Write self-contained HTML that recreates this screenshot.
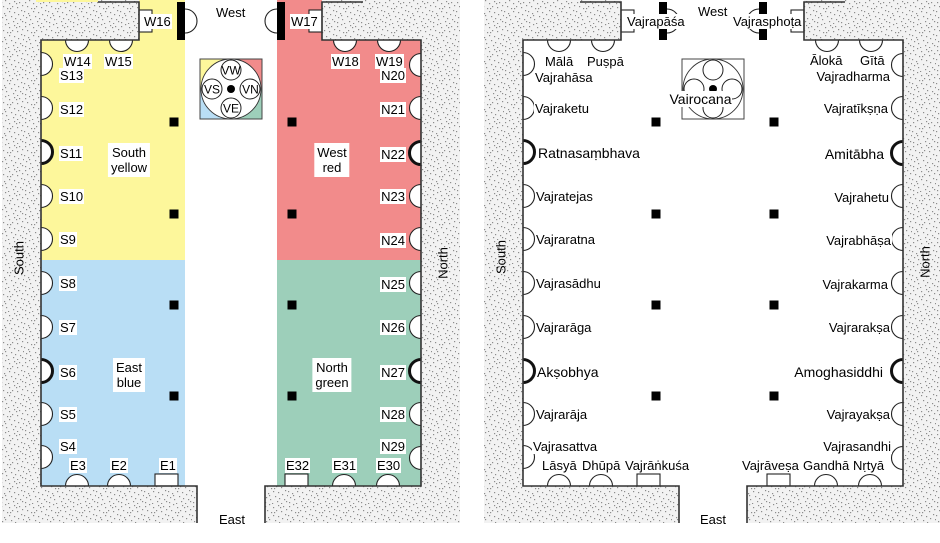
<!DOCTYPE html>
<html><head><meta charset="utf-8">
<style>
html,body{margin:0;padding:0;background:#fff;}
#c{position:relative;width:940px;height:543px;overflow:hidden;font-family:"Liberation Sans","DejaVu Sans",Arial,sans-serif;color:#000;}
svg{position:absolute;left:0;top:0;}
.l{position:absolute;font-size:13px;line-height:15px;background:#fff;padding:0 1px;white-space:nowrap;}
.b{font-size:14px;line-height:16px;}
.n{background:none;}
.c{text-align:center;padding:2px 3px;transform:translateX(-50%);}
.rot{position:absolute;font-size:13px;line-height:15px;white-space:nowrap;transform:translate(-50%,-50%) rotate(-90deg);}
</style></head><body>
<div id="c">
<svg width="940" height="543" viewBox="0 0 940 543">
<defs>
<pattern id="st" width="24" height="24" patternUnits="userSpaceOnUse">
<rect width="24" height="24" fill="#f2f2f2"/>
<g fill="#8c8c8c">
<rect x="1" y="2" width="1.2" height="1.2"/><rect x="5" y="0" width="1.2" height="1.2"/><rect x="9" y="3" width="1.2" height="1.2"/>
<rect x="14" y="1" width="1.2" height="1.2"/><rect x="19" y="2" width="1.2" height="1.2"/><rect x="22" y="5" width="1.2" height="1.2"/>
<rect x="3" y="6" width="1.2" height="1.2"/><rect x="7" y="8" width="1.2" height="1.2"/><rect x="12" y="6" width="1.2" height="1.2"/>
<rect x="17" y="7" width="1.2" height="1.2"/><rect x="21" y="10" width="1.2" height="1.2"/><rect x="0" y="11" width="1.2" height="1.2"/>
<rect x="4" y="13" width="1.2" height="1.2"/><rect x="9" y="11" width="1.2" height="1.2"/><rect x="14" y="12" width="1.2" height="1.2"/>
<rect x="18" y="14" width="1.2" height="1.2"/><rect x="23" y="15" width="1.2" height="1.2"/><rect x="2" y="17" width="1.2" height="1.2"/>
<rect x="6" y="19" width="1.2" height="1.2"/><rect x="11" y="16" width="1.2" height="1.2"/><rect x="15" y="18" width="1.2" height="1.2"/>
<rect x="20" y="19" width="1.2" height="1.2"/><rect x="1" y="22" width="1.2" height="1.2"/><rect x="8" y="23" width="1.2" height="1.2"/>
<rect x="13" y="21" width="1.2" height="1.2"/><rect x="17" y="23" width="1.2" height="1.2"/><rect x="22" y="21" width="1.2" height="1.2"/>
<rect x="10" y="8" width="1.2" height="1.2"/><rect x="16" y="3" width="1.2" height="1.2"/><rect x="5" y="15" width="1.2" height="1.2"/>
</g>
</pattern>
<g id="base">
  <!-- niches -->
  <g fill="#fff" stroke="#222" stroke-width="1.1">
    <path d="M41,52.5 A11.5,11.5 0 0 1 41,75.5"/>
    <path d="M41,96.5 A11.5,11.5 0 0 1 41,119.5"/>
    <path d="M41,184.5 A11.5,11.5 0 0 1 41,207.5"/>
    <path d="M41,227.5 A11.5,11.5 0 0 1 41,250.5"/>
    <path d="M41,271.5 A11.5,11.5 0 0 1 41,294.5"/>
    <path d="M41,315.5 A11.5,11.5 0 0 1 41,338.5"/>
    <path d="M41,402.5 A11.5,11.5 0 0 1 41,425.5"/>
    <path d="M41,445.5 A11.5,11.5 0 0 1 41,468.5"/>
    <path d="M421,53.5 A11.5,11.5 0 0 0 421,76.5"/>
    <path d="M421,96.5 A11.5,11.5 0 0 0 421,119.5"/>
    <path d="M421,184.5 A11.5,11.5 0 0 0 421,207.5"/>
    <path d="M421,227.5 A11.5,11.5 0 0 0 421,250.5"/>
    <path d="M421,271.5 A11.5,11.5 0 0 0 421,294.5"/>
    <path d="M421,315.5 A11.5,11.5 0 0 0 421,338.5"/>
    <path d="M421,402.5 A11.5,11.5 0 0 0 421,425.5"/>
    <path d="M421,446.5 A11.5,11.5 0 0 0 421,469.5"/>
    <path d="M65.5,40 A11.5,11.5 0 0 0 88.5,40"/>
    <path d="M109.5,40 A11.5,11.5 0 0 0 132.5,40"/>
    <path d="M333.5,40 A11.5,11.5 0 0 0 356.5,40"/>
    <path d="M377.5,40 A11.5,11.5 0 0 0 400.5,40"/>
    <path d="M65.5,486 A11.5,11.5 0 0 1 88.5,486"/>
    <path d="M107.5,486 A11.5,11.5 0 0 1 130.5,486"/>
    <path d="M332.5,486 A11.5,11.5 0 0 1 355.5,486"/>
    <path d="M376.5,486 A11.5,11.5 0 0 1 399.5,486"/>
    <path d="M185,9 A12,12 0 0 1 185,33"/>
    <path d="M277,9 A12,12 0 0 0 277,33"/>
    <rect x="139" y="10" width="13" height="22"/>
    <rect x="309" y="10" width="13" height="22"/>
    <rect x="155" y="474" width="23" height="12"/>
    <rect x="285" y="474" width="23" height="12"/>
  </g>
  <g fill="#fff" stroke="#111" stroke-width="3">
    <path d="M41,140.5 A11.5,11.5 0 0 1 41,163.5"/>
    <path d="M41,359.5 A11.5,11.5 0 0 1 41,382.5"/>
    <path d="M421,141.5 A11.5,11.5 0 0 0 421,164.5"/>
    <path d="M421,359.5 A11.5,11.5 0 0 0 421,382.5"/>
  </g>
  <!-- walls -->
  <g fill="none" stroke="#333" stroke-width="1.6">
    <polyline points="98,2 139,2 139,40 41,40 41,486 197,486 197,523"/>
    <polyline points="363,2 322,2 322,40 421,40 421,486 265,486 265,523"/>
  </g>
  <!-- bars -->
  <rect x="177" y="2" width="8" height="38" fill="#000"/>
  <rect x="277" y="2" width="8" height="38" fill="#000"/>
  <!-- pillars -->
  <g fill="#000">
    <rect x="169.5" y="117.5" width="9" height="9"/><rect x="169.5" y="209.5" width="9" height="9"/>
    <rect x="169.5" y="300.5" width="9" height="9"/><rect x="169.5" y="391.5" width="9" height="9"/>
    <rect x="287.5" y="117.5" width="9" height="9"/><rect x="287.5" y="209.5" width="9" height="9"/>
    <rect x="287.5" y="300.5" width="9" height="9"/><rect x="287.5" y="391.5" width="9" height="9"/>
  </g>
  <!-- central legend -->
  <rect x="200" y="59" width="62" height="60" fill="none" stroke="#444" stroke-width="1"/>
  <circle cx="231" cy="89" r="30" fill="#fff" stroke="#333" stroke-width="0.9"/>
  <g fill="#fff" stroke="#222" stroke-width="1">
    <circle cx="231" cy="70" r="10"/><circle cx="212" cy="89" r="10"/>
    <circle cx="250" cy="89" r="10"/><circle cx="231" cy="108" r="10"/>
  </g>
  <circle cx="231" cy="89" r="4" fill="#000"/>
</g>
</defs>

<!-- LEFT DIAGRAM -->
<path fill="url(#st)" d="M2,0H139V40H41V486H197V523H2Z"/>
<path fill="url(#st)" d="M322,0H460V523H265V486H421V40H322Z"/>
<rect x="36" y="0" width="62" height="2" fill="#fdf79b"/>
<rect x="41" y="40" width="144" height="220" fill="#fdf79b"/>
<rect x="139" y="0" width="46" height="40" fill="#fdf79b"/>
<rect x="277" y="40" width="144" height="220" fill="#f28b8b"/>
<rect x="277" y="0" width="45" height="40" fill="#f28b8b"/>
<rect x="41" y="260" width="144" height="226" fill="#b9def5"/>
<rect x="277" y="260" width="144" height="226" fill="#9dcfba"/>
<rect x="200" y="59" width="31" height="30" fill="#fdf79b"/>
<rect x="231" y="59" width="31" height="30" fill="#f28b8b"/>
<rect x="200" y="89" width="31" height="30" fill="#b9def5"/>
<rect x="231" y="89" width="31" height="30" fill="#9dcfba"/>
<use href="#base"/>
<g font-family="Liberation Sans, Arial, sans-serif" font-size="12" text-anchor="middle" fill="#000">
  <text x="231" y="74.3">VW</text>
  <text x="212" y="93.3">VS</text>
  <text x="250.5" y="93.3">VN</text>
  <text x="231" y="112.3">VE</text>
</g>

<!-- RIGHT DIAGRAM -->
<path fill="url(#st)" d="M484,0H621V40H523V486H679V523H484Z"/>
<path fill="url(#st)" d="M804,0H940V523H747V486H903V40H804Z"/>
<use href="#base" x="482"/>
</svg>

<!-- LEFT LABELS -->
<div class="l n" style="left:215px;top:4.5px">West</div>
<div class="l" style="left:143px;top:13.5px">W16</div>
<div class="l" style="left:290px;top:13.5px">W17</div>
<div class="l" style="left:63px;top:53.5px">W14</div>
<div class="l" style="left:104px;top:53.5px">W15</div>
<div class="l" style="left:331px;top:53.5px">W18</div>
<div class="l" style="left:375px;top:53.5px">W19</div>
<div class="l" style="left:59px;top:67.5px">S13</div>
<div class="l" style="left:59px;top:101.5px">S12</div>
<div class="l" style="left:59px;top:145.5px">S11</div>
<div class="l" style="left:59px;top:188.5px">S10</div>
<div class="l" style="left:59px;top:231.5px">S9</div>
<div class="l" style="left:59px;top:275.5px">S8</div>
<div class="l" style="left:59px;top:319.5px">S7</div>
<div class="l" style="left:59px;top:364.5px">S6</div>
<div class="l" style="left:59px;top:406.5px">S5</div>
<div class="l" style="left:59px;top:438.5px">S4</div>
<div class="l" style="right:534px;top:67.5px">N20</div>
<div class="l" style="right:534px;top:101.5px">N21</div>
<div class="l" style="right:534px;top:146.5px">N22</div>
<div class="l" style="right:534px;top:188.5px">N23</div>
<div class="l" style="right:534px;top:232.5px">N24</div>
<div class="l" style="right:534px;top:276.5px">N25</div>
<div class="l" style="right:534px;top:319.5px">N26</div>
<div class="l" style="right:534px;top:364.5px">N27</div>
<div class="l" style="right:534px;top:406.5px">N28</div>
<div class="l" style="right:534px;top:438.5px">N29</div>
<div class="l" style="left:69px;top:457.5px">E3</div>
<div class="l" style="left:110px;top:457.5px">E2</div>
<div class="l" style="left:159px;top:457.5px">E1</div>
<div class="l" style="left:285px;top:457.5px">E32</div>
<div class="l" style="left:332px;top:457.5px">E31</div>
<div class="l" style="left:376px;top:457.5px">E30</div>
<div class="l n" style="left:218px;top:511.5px">East</div>
<div class="l c" style="left:129px;top:143px">South<br>yellow</div>
<div class="l c" style="left:332px;top:143px">West<br>red</div>
<div class="l c" style="left:129px;top:358px">East<br>blue</div>
<div class="l c" style="left:332px;top:358px">North<br>green</div>
<div class="rot" style="left:19px;top:258px">South</div>
<div class="rot" style="left:443px;top:263px">North</div>

<!-- RIGHT LABELS -->
<div class="l n" style="left:697px;top:3.5px">West</div>
<div class="l" style="left:626px;top:13.5px">Vajrapāśa</div>
<div class="l" style="left:732px;top:13.5px">Vajrasphoṭa</div>
<div class="l" style="left:544px;top:53.5px">Mālā</div>
<div class="l" style="left:586px;top:53.5px">Puṣpā</div>
<div class="l" style="left:809px;top:52.5px">Ālokā</div>
<div class="l" style="left:859px;top:52.5px">Gītā</div>
<div class="l" style="left:534px;top:69.5px">Vajrahāsa</div>
<div class="l" style="left:534px;top:100.5px">Vajraketu</div>
<div class="l" style="right:49px;top:68.5px">Vajradharma</div>
<div class="l" style="right:51px;top:100.5px">Vajratīkṣṇa</div>
<div class="l b" style="left:537px;top:145px">Ratnasaṃbhava</div>
<div class="l" style="left:535px;top:188.5px">Vajratejas</div>
<div class="l" style="left:535px;top:231.5px">Vajraratna</div>
<div class="l" style="left:535px;top:275.5px">Vajrasādhu</div>
<div class="l" style="left:535px;top:319.5px">Vajrarāga</div>
<div class="l b" style="left:536px;top:364px">Akṣobhya</div>
<div class="l" style="left:535px;top:406.5px">Vajrarāja</div>
<div class="l" style="left:532px;top:438.5px">Vajrasattva</div>
<div class="l b" style="right:55px;top:146px">Amitābha</div>
<div class="l" style="right:50px;top:189.5px">Vajrahetu</div>
<div class="l" style="right:48px;top:232.5px">Vajrabhāṣa</div>
<div class="l" style="right:51px;top:276.5px">Vajrakarma</div>
<div class="l" style="right:49px;top:319.5px">Vajrarakṣa</div>
<div class="l b" style="right:56px;top:364px">Amoghasiddhi</div>
<div class="l" style="right:49px;top:406.5px">Vajrayakṣa</div>
<div class="l" style="right:48px;top:438.5px">Vajrasandhi</div>
<div class="l" style="left:541px;top:457.5px">Lāsyā</div>
<div class="l" style="left:581px;top:457.5px">Dhūpā</div>
<div class="l" style="left:624px;top:457.5px">Vajrāṅkuśa</div>
<div class="l" style="left:741px;top:457.5px">Vajrāveṣa</div>
<div class="l" style="left:802px;top:457.5px">Gandhā</div>
<div class="l" style="left:852px;top:457.5px">Nṛtyā</div>
<div class="l n" style="left:699px;top:511.5px">East</div>
<div class="l b" style="left:700.5px;top:91px;transform:translateX(-50%);padding:0">Vairocana</div>
<div class="rot" style="left:501px;top:257px">South</div>
<div class="rot" style="left:925px;top:262px">North</div>
</div>
</body></html>
